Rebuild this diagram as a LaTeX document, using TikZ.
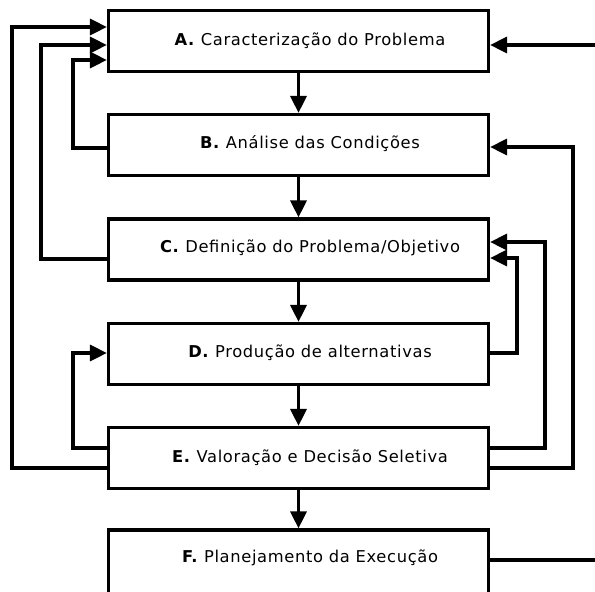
\documentclass[tikz,border=0pt]{standalone}
\usepackage{fontspec}
\setmainfont{DejaVu Sans}[LetterSpace=4]
\usetikzlibrary{arrows.meta}
\begin{document}
\begin{tikzpicture}[x=1pt,y=-1pt,
  box/.style={draw,line width=3.2pt,minimum width=380pt,minimum height=61pt,inner sep=0pt},
  conn/.style={line width=3.2pt,-{Triangle[length=17pt,width=16pt]}},
  plain/.style={line width=3.2pt},
  lbl/.style={font=\fontsize{16.3}{19}\selectfont,text=black}]
\useasboundingbox (0,0) rectangle (595,592);
\begin{scope}
\clip (0,0) rectangle (595,592);
\node[box] (A) at (298.5,41) {};
\node[box] (B) at (298.5,145) {};
\node[box] (C) at (298.5,249.5) {};
\node[box] (D) at (298.5,354) {};
\node[box] (E) at (298.5,458) {};
\node[box,minimum height=66pt] (F) at (298.5,563) {};
\node[lbl] (tA) at (310,41) {\textbf{A.} Caracterização do Problema};
\node[lbl] (tB) at (310,144) {\textbf{B.} Análise das Condições};
\node[lbl] (tC) at (310,248) {\textbf{C.} Definição do Problema/Objetivo};
\node[lbl] (tD) at (310,353) {\textbf{D.} Produção de alternativas};
\node[lbl] (tE) at (310,458) {\textbf{E.} Valoração e Decisão Seletiva};
\node[lbl] (tF) at (310,558) {\textbf{F.} Planejamento da Execução};
\coordinate (in) at (595,45);
\coordinate (out) at (595,560);
% vertical flow
\draw[conn] (A.south) -- (B.north);
\draw[conn] (B.south) -- (C.north);
\draw[conn] (C.south) -- (D.north);
\draw[conn] (D.south) -- (E.north);
\draw[conn] (E.south) -- (F.north);
% left feedback
\draw[conn] (E.west|-0,468) -| (12,27) -- (A.west|-0,27);
\draw[conn] (C.west|-0,259) -| (41,45) -- (A.west|-0,45);
\draw[conn] (B.west|-0,148) -| (73,60) -- (A.west|-0,60);
\draw[conn] (E.west|-0,448) -| (73,353) -- (D.west|-0,353);
% right
\draw[conn] (in) -- (A.east|-in);
\draw[conn] (E.east|-0,468) -| (573,147) -- (B.east|-0,147);
\draw[conn] (E.east|-0,448) -| (545,242) -- (C.east|-0,242);
\draw[conn] (D.east|-0,353) -| (517,258) -- (C.east|-0,258);
\draw[plain] (F.east|-out) -- (out);
\end{scope}
\end{tikzpicture}
\end{document}
